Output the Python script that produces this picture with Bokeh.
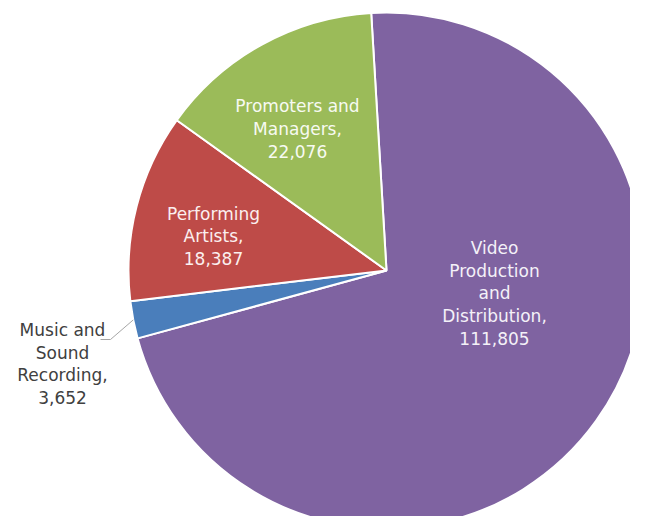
import math
from bokeh.plotting import figure
from bokeh.models import Range1d, ColumnDataSource
from bokeh.core.properties import value
from bokeh.embed import file_html
from bokeh.resources import INLINE

# ---- data ----
categories = ["Video Production and Distribution", "Music and Sound Recording",
              "Performing Artists", "Promoters and Managers"]
values = [111805, 3652, 18387, 22076]
label_texts = ["Video\nProduction\nand\nDistribution,\n111,805",
               "Music and\nSound\nRecording,\n3,652",
               "Performing\nArtists,\n18,387",
               "Promoters and\nManagers,\n22,076"]
colors = ["#7F63A1", "#4A7EBB", "#BE4B48", "#9BBB59"]

# ---- geometry (pixel-like data space, y up: data y = 532 - pixel y) ----
W, H = 630, 516
cx, cy, r = 386, 262, 258
start = math.radians(93.4)  # first slice starts just left of 12 o'clock, goes clockwise

total = float(sum(values))
starts, ends = [], []
a = start
for v in values:
    starts.append(a)
    a = a - 2 * math.pi * v / total
    ends.append(a)

src = ColumnDataSource(dict(start=starts, end=ends, color=colors, cat=categories))

p = figure(width=W, height=H, output_backend="svg", toolbar_location=None,
           x_range=Range1d(0, W), y_range=Range1d(532 - H, 532),
           min_border=0)
p.axis.visible = False
p.grid.visible = False
p.outline_line_color = None
p.background_fill_color = "white"

p.wedge(x=cx, y=cy, radius=r, start_angle="start", end_angle="end",
        direction="clock", fill_color="color", line_color="white",
        line_width=2, source=src)

# label positions (block centres)
lab_x = [494, 62, 213, 297]
lab_y = [239, 168.5, 296, 403.5]
lab_col = ["#F4F1F8", "#404040", "#FBEFEF", "#F7FAF2"]
p.text(x=lab_x, y=lab_y, text=label_texts, text_align="center",
       text_baseline="middle", text_font=value("DejaVu Sans"),
       text_font_size="17px", text_line_height=1.14, text_color=lab_col)

# leader line for the small slice
mid = (starts[1] + ends[1]) / 2
ex, ey = cx + r * math.cos(mid), cy + r * math.sin(mid)
p.line(x=[100, 110, ex], y=[193, 193, ey], line_color="#A6A6A6", line_width=1)

open("out.html", "w").write(file_html(p, INLINE))
